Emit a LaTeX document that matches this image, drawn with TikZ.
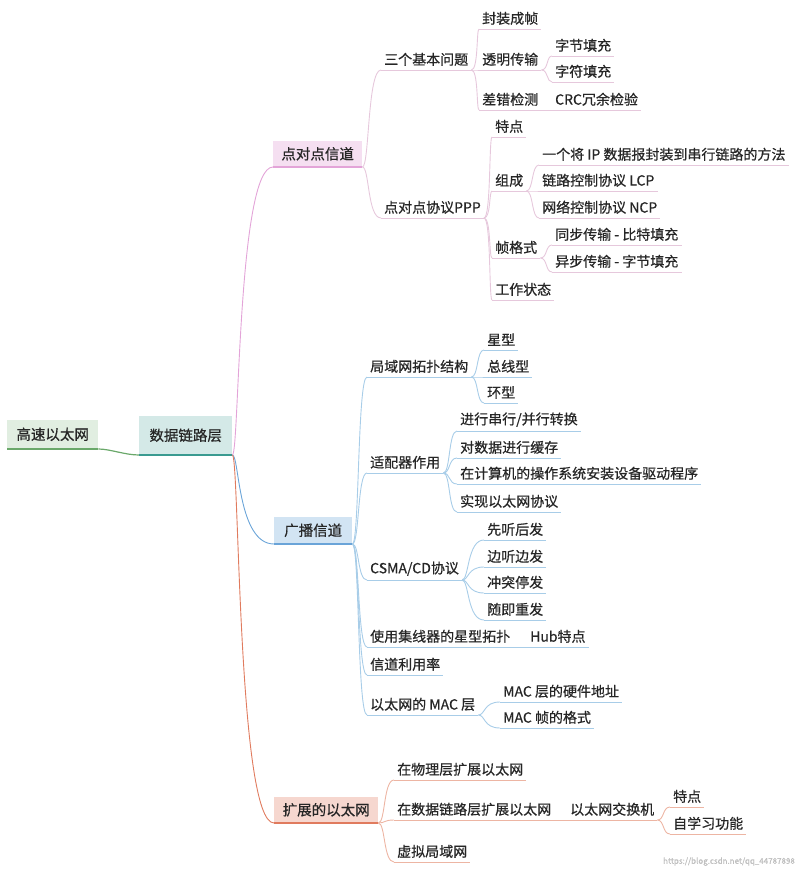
\documentclass[tikz,border=0pt]{standalone}
\usepackage{fontspec}
\setmainfont{Noto Sans CJK SC}[FakeBold=0.6]
\usetikzlibrary{calc}
\definecolor{pk}{HTML}{E3A4D8}
\definecolor{pkl}{HTML}{E6C8DC}
\definecolor{bl}{HTML}{6AA4D8}
\definecolor{bll}{HTML}{A8CDE8}
\definecolor{og}{HTML}{E07B5E}
\definecolor{ogl}{HTML}{EDB5A3}
\definecolor{gr}{HTML}{6AA86A}
\definecolor{tl}{HTML}{3A9A90}
\tikzset{
 lbl/.style={anchor=south west,inner xsep=3pt,inner ysep=4pt,font=\fontsize{14}{16}\selectfont,text=black!85},
 box/.style={anchor=south west,inner sep=0pt,font=\fontsize{14.5}{16}\selectfont,text=black!85},
}
\newcommand\nd[5]{\node[lbl] (#1) at (#2,#3) {#4}; \draw[#5,line width=0.9pt] (#1.south west) -- (#1.south east);}
\newcommand\br[3]{\draw[#3,line width=0.9pt] (#1.south east) .. controls ($(#1.south east)+(7,0)$) and ($(#1.south east |- #2.south west)+(5,0)$) .. (#2.south west);}
\newcommand\bx[7]{\node[box,fill=#6,minimum width=#4,minimum height=#5] (#1) at (#2,#3) {#7};}
\begin{document}
\begin{tikzpicture}[x=1pt,y=-1pt]
\useasboundingbox (0,0) rectangle (800,869);
% boxes
\bx{root}{7}{449}{91pt}{29pt}{gr!20}{高速以太网}
\draw[gr,line width=1.2pt] (root.south west) -- (root.south east);
\bx{dl}{139}{455}{93pt}{39pt}{tl!22}{数据链路层}
\draw[tl,line width=1.5pt] (dl.south west) -- (dl.south east);
\bx{p2p}{273}{167}{89pt}{26pt}{pk!35}{点对点信道}
\draw[pk,line width=1.5pt] (p2p.south west) -- (p2p.south east);
\bx{bc}{274}{544}{78pt}{27pt}{bl!30}{广播信道}
\draw[bl,line width=1.5pt] (bc.south west) -- (bc.south east);
\bx{ex}{274}{823}{104pt}{26pt}{og!30}{扩展的以太网}
\draw[og,line width=1.5pt] (ex.south west) -- (ex.south east);
\draw[gr,line width=1.2pt] (root.south east) .. controls (110,449) and (125,455) .. (dl.south west);
\br{dl}{p2p}{pk,line width=1.5pt}
\br{dl}{bc}{bl,line width=1.5pt}
\br{dl}{ex}{og,line width=1.5pt}
% point to point
\nd{a1}{381}{70}{三个基本问题}{pkl}
\nd{a2}{381}{218}{点对点协议PPP}{pkl}
\br{p2p}{a1}{pkl}\br{p2p}{a2}{pkl}
\nd{b1}{479}{29}{封装成帧}{pkl}
\nd{b2}{479}{70}{透明传输}{pkl}
\nd{b3}{479}{110}{差错检测}{pkl}
\br{a1}{b1}{pkl}\br{a1}{b2}{pkl}\br{a1}{b3}{pkl}
\nd{c1}{552}{56}{字节填充}{pkl}
\nd{c2}{552}{82}{字符填充}{pkl}
\nd{c3}{552}{110}{CRC冗余检验}{pkl}
\br{b2}{c1}{pkl}\br{b2}{c2}{pkl}\draw[pkl,line width=0.9pt] (b3.south east) -- (c3.south west);
\nd{d1}{492}{137}{特点}{pkl}
\nd{d2}{492}{191}{组成}{pkl}
\nd{d3}{492}{258}{帧格式}{pkl}
\nd{d4}{492}{300}{工作状态}{pkl}
\br{a2}{d1}{pkl}\br{a2}{d2}{pkl}\br{a2}{d3}{pkl}\br{a2}{d4}{pkl}
\nd{e1}{539}{165}{一个将 IP 数据报封装到串行链路的方法}{pkl}
\nd{e2}{539}{191}{链路控制协议 LCP}{pkl}
\nd{e3}{539}{218}{网络控制协议 NCP}{pkl}
\br{d2}{e1}{pkl}\br{d2}{e2}{pkl}\br{d2}{e3}{pkl}
\nd{f1}{552}{245}{同步传输 - 比特填充}{pkl}
\nd{f2}{552}{272}{异步传输 - 字节填充}{pkl}
\br{d3}{f1}{pkl}\br{d3}{f2}{pkl}
% broadcast
\nd{g1}{367}{377}{局域网拓扑结构}{bll}
\nd{g2}{367}{473}{适配器作用}{bll}
\nd{g3}{367}{580}{CSMA/CD协议}{bll}
\nd{g4}{367}{647}{使用集线器的星型拓扑}{bll}
\nd{g5}{367}{675}{信道利用率}{bll}
\nd{g6}{367}{715}{以太网的 MAC 层}{bll}
\br{bc}{g1}{bll}\br{bc}{g2}{bll}\br{bc}{g3}{bll}\br{bc}{g4}{bll}\br{bc}{g5}{bll}\br{bc}{g6}{bll}
\nd{h1}{484}{350}{星型}{bll}
\nd{h2}{484}{377}{总线型}{bll}
\nd{h3}{484}{403}{环型}{bll}
\br{g1}{h1}{bll}\br{g1}{h2}{bll}\br{g1}{h3}{bll}
\nd{i1}{457}{431}{进行串行/并行转换}{bll}
\nd{i2}{457}{458}{对数据进行缓存}{bll}
\nd{i3}{457}{484}{在计算机的操作系统安装设备驱动程序}{bll}
\nd{i4}{457}{512}{实现以太网协议}{bll}
\br{g2}{i1}{bll}\br{g2}{i2}{bll}\br{g2}{i3}{bll}\br{g2}{i4}{bll}
\nd{j1}{484}{540}{先听后发}{bll}
\nd{j2}{484}{567}{边听边发}{bll}
\nd{j3}{484}{593}{冲突停发}{bll}
\nd{j4}{484}{620}{随即重发}{bll}
\br{g3}{j1}{bll}\br{g3}{j2}{bll}\br{g3}{j3}{bll}\br{g3}{j4}{bll}
\nd{k1}{527}{647}{Hub特点}{bll}
\draw[bll,line width=0.9pt] (g4.south east) -- (k1.south west);
\nd{l1}{500}{702}{MAC 层的硬件地址}{bll}
\nd{l2}{500}{728}{MAC 帧的格式}{bll}
\br{g6}{l1}{bll}\br{g6}{l2}{bll}
% extended
\nd{m1}{394}{780}{在物理层扩展以太网}{ogl}
\nd{m2}{394}{820}{在数据链路层扩展以太网}{ogl}
\nd{m3}{394}{862}{虚拟局域网}{ogl}
\br{ex}{m1}{ogl}\br{ex}{m2}{ogl}\br{ex}{m3}{ogl}
\nd{n1}{567}{820}{以太网交换机}{ogl}
\draw[ogl,line width=0.9pt] (m2.south east) -- (n1.south west);
\nd{o1}{670}{807}{特点}{ogl}
\nd{o2}{670}{834}{自学习功能}{ogl}
\br{n1}{o1}{ogl}\br{n1}{o2}{ogl}
\node[anchor=south east,font=\fontsize{8}{9}\selectfont,text=black!25,inner sep=0pt] (wm) at (795,866) {https://blog.csdn.net/qq\_44787898};
\end{tikzpicture}
\end{document}
